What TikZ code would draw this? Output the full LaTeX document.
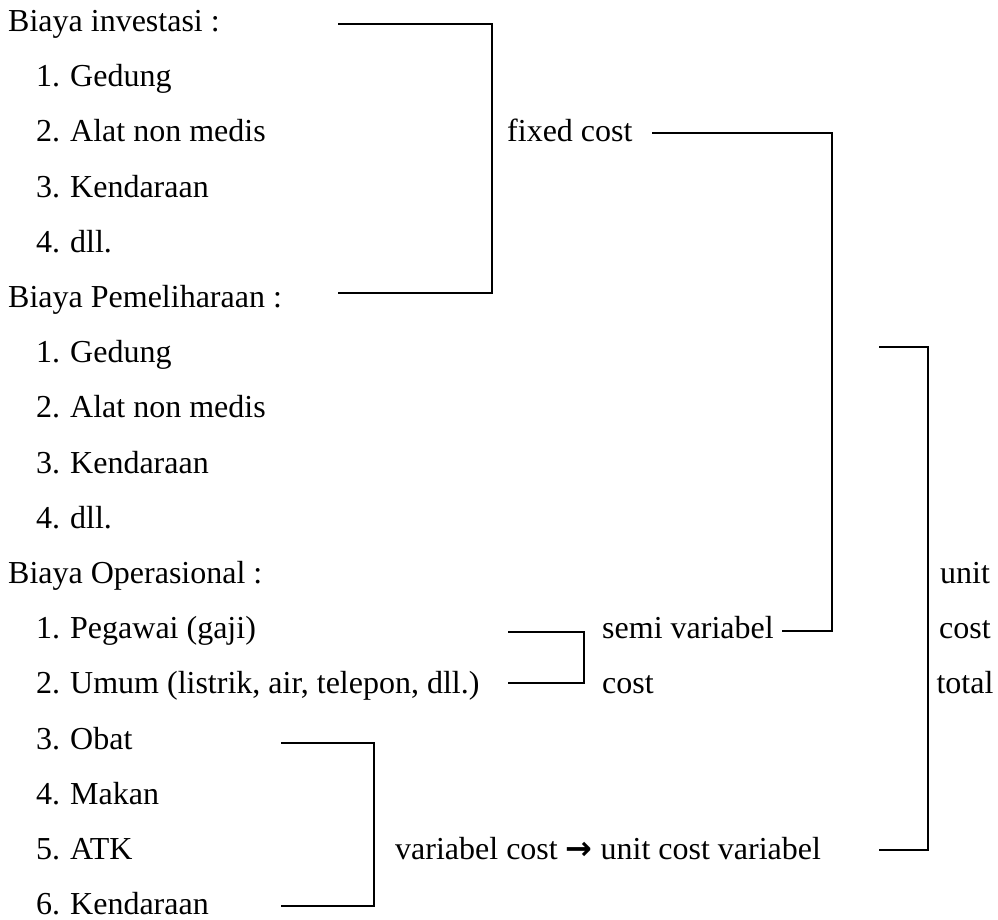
\documentclass[tikz,border=0pt]{standalone}
\usepackage{fontspec}
\setmainfont{Liberation Serif}
\newfontfamily\arrowfont{DejaVu Sans}
\begin{document}
\begin{tikzpicture}[x=1pt,y=-1pt,
  txt/.style={anchor=base west, inner sep=0pt, font=\fontsize{32}{38}\selectfont},
  ctxt/.style={anchor=base, inner sep=0pt, font=\fontsize{32}{38}\selectfont},
  brk/.style={line width=2pt}]
\useasboundingbox (0,0) rectangle (998,919);
\def\bl#1{31.5+55.2*#1}
% left column
\node[txt] (h1) at (8,{\bl{0}}) {Biaya investasi :};
\node[txt] (n1a) at (36,{\bl{1}}) {1.}; \node[txt] (i1a) at (70,{\bl{1}}) {Gedung};
\node[txt] (n1b) at (36,{\bl{2}}) {2.}; \node[txt] (i1b) at (70,{\bl{2}}) {Alat non medis};
\node[txt] (n1c) at (36,{\bl{3}}) {3.}; \node[txt] (i1c) at (70,{\bl{3}}) {Kendaraan};
\node[txt] (n1d) at (36,{\bl{4}}) {4.}; \node[txt] (i1d) at (70,{\bl{4}}) {dll.};
\node[txt] (h2) at (8,{\bl{5}}) {Biaya Pemeliharaan :};
\node[txt] (n2a) at (36,{\bl{6}}) {1.}; \node[txt] (i2a) at (70,{\bl{6}}) {Gedung};
\node[txt] (n2b) at (36,{\bl{7}}) {2.}; \node[txt] (i2b) at (70,{\bl{7}}) {Alat non medis};
\node[txt] (n2c) at (36,{\bl{8}}) {3.}; \node[txt] (i2c) at (70,{\bl{8}}) {Kendaraan};
\node[txt] (n2d) at (36,{\bl{9}}) {4.}; \node[txt] (i2d) at (70,{\bl{9}}) {dll.};
\node[txt] (h3) at (8,{\bl{10}}) {Biaya Operasional :};
\node[txt] (n3a) at (36,{\bl{11}}) {1.}; \node[txt] (i3a) at (70,{\bl{11}}) {Pegawai (gaji)};
\node[txt] (n3b) at (36,{\bl{12}}) {2.}; \node[txt] (i3b) at (70,{\bl{12}}) {Umum (listrik, air, telepon, dll.)};
\node[txt] (n3c) at (36,{\bl{13}}) {3.}; \node[txt] (i3c) at (70,{\bl{13}}) {Obat};
\node[txt] (n3d) at (36,{\bl{14}}) {4.}; \node[txt] (i3d) at (70,{\bl{14}}) {Makan};
\node[txt] (n3e) at (36,{\bl{15}}) {5.}; \node[txt] (i3e) at (70,{\bl{15}}) {ATK};
\node[txt] (n3f) at (36,{\bl{16}}) {6.}; \node[txt] (i3f) at (70,{\bl{16}}) {Kendaraan};
% middle / right labels
\node[txt] (fixed) at (507,{\bl{2}}) {fixed cost};
\node[txt] (semi) at (602,{\bl{11}}) {semi variabel};
\node[txt] (semic) at (602,{\bl{12}}) {cost};
\node[txt] (var) at (395,{\bl{15}}) {variabel cost {\arrowfont\bfseries →} unit cost variabel};
\node[ctxt] (u1) at (965,{\bl{10}}) {unit};
\node[ctxt] (u2) at (965,{\bl{11}}) {cost};
\node[ctxt] (u3) at (965,{\bl{12}}) {total};
% bracket coordinates
\coordinate (a1) at (338,24);  \coordinate (a2) at (492,24);
\coordinate (a3) at (492,293); \coordinate (a4) at (338,293);
\coordinate (f1) at (652,133); \coordinate (f2) at (832,133);
\coordinate (f3) at (832,631); \coordinate (f4) at (782,631);
\coordinate (s1) at (508,632); \coordinate (s2) at (584,632);
\coordinate (s3) at (584,683); \coordinate (s4) at (508,683);
\coordinate (v1) at (281,743); \coordinate (v2) at (374,743);
\coordinate (v3) at (374,906); \coordinate (v4) at (281,906);
\coordinate (r1) at (879,347); \coordinate (r2) at (928,347);
\coordinate (r3) at (928,850); \coordinate (r4) at (879,850);
% brackets
\draw[brk] (a1) -- (a2) -- (a3) -- (a4);
\draw[brk] (f1) -- (f2) -- (f3) -- (f4);
\draw[brk] (s1) -- (s2) -- (s3) -- (s4);
\draw[brk] (v1) -- (v2) -- (v3) -- (v4);
\draw[brk] (r1) -- (r2) -- (r3) -- (r4);
\end{tikzpicture}
\end{document}
